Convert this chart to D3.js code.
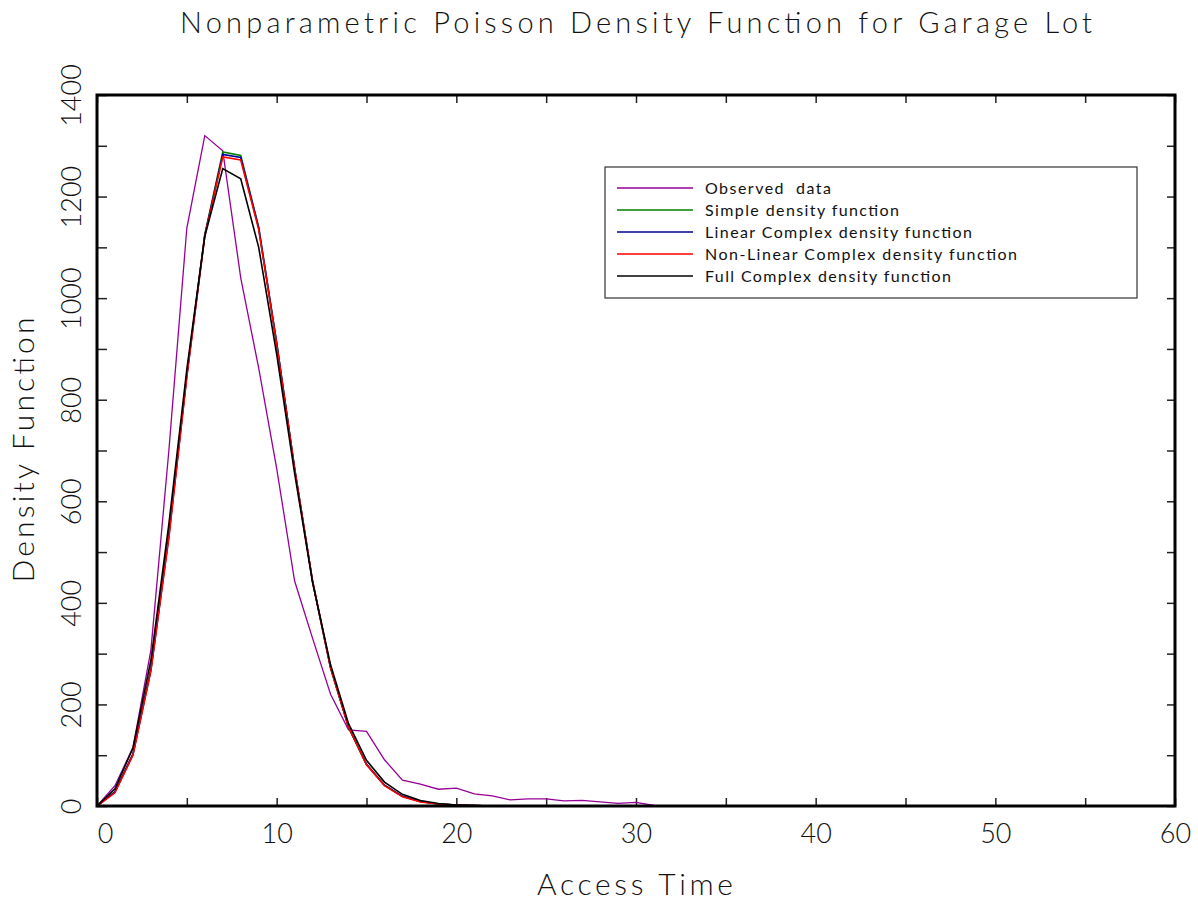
<!DOCTYPE html>
<html>
<head>
<meta charset="utf-8">
<script src="https://cdn.jsdelivr.net/npm/d3@7"></script>
<style>
  body { margin: 0; background: #fff; }
  text { font-family: Lato, "DejaVu Sans", sans-serif; font-weight: 300; fill: #111; }
</style>
</head>
<body>
<div id="chart"></div>
<script>
// ***data***
var accessTime = d3.range(0, 61);

var observed = [0, 40, 115, 307, 700, 1138, 1320, 1290, 1040, 862, 665, 443, 330, 220, 150, 147,
  91, 51, 43, 33, 35, 24, 20, 12, 14, 14, 10, 11, 8, 5, 7, 1,
  0, 0, 0, 0, 0, 0, 0, 0, 0, 0, 0, 0, 0, 0, 0, 0, 0, 0, 0, 0, 0, 0, 0, 0, 0, 0, 0, 0, 0];

var simple = [0, 28, 102, 270, 535, 850, 1125, 1288, 1281, 1140, 912, 665, 442, 272, 155, 82,
  41, 19, 9, 4, 2, 1, 0, 0, 0, 0, 0, 0, 0, 0, 0, 0,
  0, 0, 0, 0, 0, 0, 0, 0, 0, 0, 0, 0, 0, 0, 0, 0, 0, 0, 0, 0, 0, 0, 0, 0, 0, 0, 0, 0, 0];

var linearComplex = [0, 28, 102, 268, 532, 848, 1124, 1283, 1277, 1138, 912, 664, 442, 272, 155, 82,
  41, 19, 9, 4, 2, 1, 0, 0, 0, 0, 0, 0, 0, 0, 0, 0,
  0, 0, 0, 0, 0, 0, 0, 0, 0, 0, 0, 0, 0, 0, 0, 0, 0, 0, 0, 0, 0, 0, 0, 0, 0, 0, 0, 0, 0];

var nonLinearComplex = [0, 26, 100, 266, 528, 845, 1122, 1278, 1272, 1135, 910, 664, 442, 272, 155, 81,
  40, 18, 8, 4, 2, 1, 0, 0, 0, 0, 0, 0, 0, 0, 0, 0,
  0, 0, 0, 0, 0, 0, 0, 0, 0, 0, 0, 0, 0, 0, 0, 0, 0, 0, 0, 0, 0, 0, 0, 0, 0, 0, 0, 0, 0];

var fullComplex = [0, 34, 114, 287, 555, 860, 1122, 1255, 1235, 1100, 890, 655, 440, 278, 162, 90,
  47, 23, 11, 5, 2, 1, 0, 0, 0, 0, 0, 0, 0, 0, 0, 0,
  0, 0, 0, 0, 0, 0, 0, 0, 0, 0, 0, 0, 0, 0, 0, 0, 0, 0, 0, 0, 0, 0, 0, 0, 0, 0, 0, 0, 0];

var seriesNames = ["Observed  data", "Simple density function", "Linear Complex density function",
  "Non-Linear Complex density function", "Full Complex density function"];
var seriesColors = ["#960096", "#008000", "#000096", "#ff0000", "#000000"];
var seriesValues = [observed, simple, linearComplex, nonLinearComplex, fullComplex];

var xTickLabels = [0, 10, 20, 30, 40, 50, 60];
var yTickLabels = [0, 200, 400, 600, 800, 1000, 1200, 1400];

// ***svg set up***
var svgWidth = 1198;
var svgHeight = 902;
var margin = { top: 95, right: 23, bottom: 96, left: 97 };
var width = svgWidth - margin.left - margin.right;
var height = svgHeight - margin.top - margin.bottom;

var svg = d3.select("#chart")
  .append("svg")
  .attr("width", svgWidth)
  .attr("height", svgHeight);

var chartGroup = svg.append("g")
  .attr("transform", `translate(${margin.left}, ${margin.top})`);

// scales
var xLinearScale = d3.scaleLinear().domain([0, 60]).range([0, width]);
var yLinearScale = d3.scaleLinear().domain([0, 1400]).range([height, 0]);

// tick marks pointing inward, every 5 on x and every 100 on y
var xTickVals = d3.range(0, 61, 5);
var yTickVals = d3.range(0, 1401, 100);

function tickStyle(g) {
  g.select(".domain").remove();
  g.selectAll("line").attr("stroke", "#222").attr("stroke-width", 1.5);
}

chartGroup.append("g")
  .attr("transform", `translate(0, ${height})`)
  .call(d3.axisBottom(xLinearScale).tickValues(xTickVals).tickSize(-8).tickFormat(""))
  .call(tickStyle);
chartGroup.append("g")
  .call(d3.axisTop(xLinearScale).tickValues(xTickVals).tickSize(-8).tickFormat(""))
  .call(tickStyle);
chartGroup.append("g")
  .call(d3.axisLeft(yLinearScale).tickValues(yTickVals).tickSize(-10).tickFormat(""))
  .call(tickStyle);
chartGroup.append("g")
  .attr("transform", `translate(${width}, 0)`)
  .call(d3.axisRight(yLinearScale).tickValues(yTickVals).tickSize(-8).tickFormat(""))
  .call(tickStyle);

// tick labels
var xLabelAxis = chartGroup.append("g")
  .attr("transform", `translate(0, ${height})`)
  .call(d3.axisBottom(xLinearScale).tickValues(xTickLabels).tickSize(0).tickPadding(37)
    .tickFormat(d3.format("d")));
xLabelAxis.select(".domain").remove();
xLabelAxis.selectAll("text")
  .attr("dy", 0)
  .style("font-size", "27px")
  .attr("x", d => d === 0 ? 8 : 0)
  .attr("font-family", null);

var yLabelAxis = chartGroup.append("g")
  .call(d3.axisLeft(yLinearScale).tickValues(yTickLabels).tickSize(0).tickFormat(d3.format("d")));
yLabelAxis.select(".domain").remove();
yLabelAxis.selectAll("text")
  .attr("x", 0)
  .attr("y", 0)
  .attr("dy", 0)
  .attr("text-anchor", "middle")
  .attr("transform", "translate(-16, 0) rotate(-90)")
  .style("font-size", "27px")
  .attr("font-family", null);

// lines
var line = d3.line()
  .x((d, i) => xLinearScale(accessTime[i]))
  .y(d => yLinearScale(d));

seriesValues.forEach(function(vals, i) {
  chartGroup.append("path")
    .datum(vals)
    .attr("d", line)
    .attr("fill", "none")
    .attr("stroke", seriesColors[i])
    .attr("stroke-width", i === 0 ? 1.3 : 1.6);
});

// frame
chartGroup.append("rect")
  .attr("x", 0)
  .attr("y", 0)
  .attr("width", width)
  .attr("height", height)
  .attr("fill", "none")
  .attr("stroke", "#000")
  .attr("stroke-width", 3);

// legend
var legend = svg.append("g").attr("transform", "translate(605, 167)");
legend.append("rect")
  .attr("width", 532)
  .attr("height", 131)
  .attr("fill", "#fff")
  .attr("stroke", "#333")
  .attr("stroke-width", 1.2);

var legendTextWidths = [126, 194, 267, 312, 246];
seriesNames.forEach(function(name, i) {
  var row = legend.append("g").attr("transform", `translate(0, ${21 + i * 22})`);
  row.append("line")
    .attr("x1", 12).attr("x2", 88)
    .attr("stroke", seriesColors[i])
    .attr("stroke-width", 1.3);
  row.append("text")
    .attr("x", 100)
    .attr("y", 6)
    .style("font-size", "16px")
    .style("font-weight", 400)
    .attr("textLength", legendTextWidths[i])
    .attr("lengthAdjust", "spacing")
    .style("white-space", "pre")
    .text(name);
});

// titles
svg.append("text")
  .attr("x", 636)
  .attr("y", 33)
  .attr("text-anchor", "middle")
  .style("font-size", "29px")
  .attr("textLength", 912)
  .attr("lengthAdjust", "spacing")
  .text("Nonparametric Poisson Density Function for Garage Lot");

svg.append("text")
  .attr("x", 635)
  .attr("y", 895)
  .attr("text-anchor", "middle")
  .style("font-size", "30px")
  .attr("textLength", 196)
  .attr("lengthAdjust", "spacing")
  .text("Access Time");

svg.append("text")
  .attr("transform", "translate(34, 450) rotate(-90)")
  .attr("text-anchor", "middle")
  .style("font-size", "30px")
  .attr("textLength", 265)
  .attr("lengthAdjust", "spacing")
  .text("Density Function");
</script>
</body>
</html>
